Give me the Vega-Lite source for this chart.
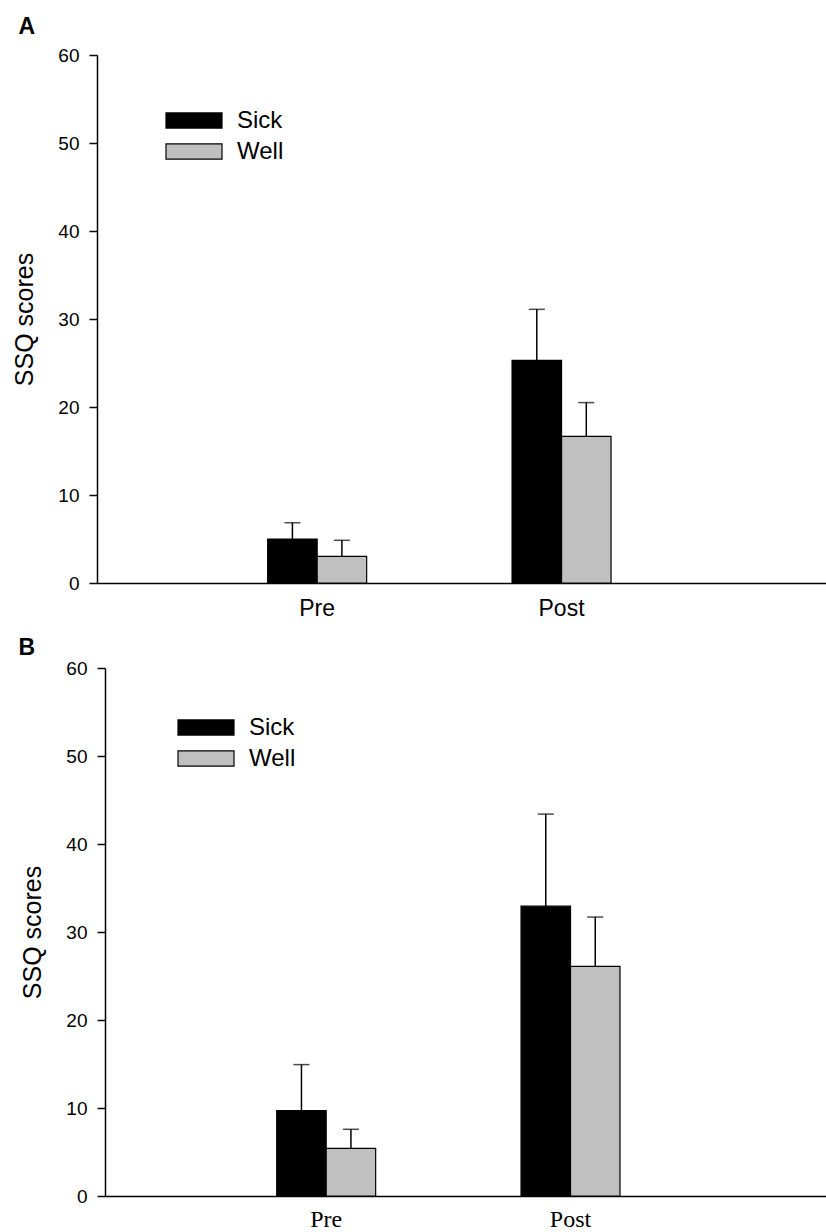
{
  "$schema": "https://vega.github.io/schema/vega-lite/v6.json",
  "background": "white",
  "padding": {"left": 12, "top": 16, "right": 0, "bottom": 0},
  "datasets": {
    "a": [
      {"phase": "Pre", "group": "Sick", "value": 5.0, "upper": 6.85},
      {"phase": "Pre", "group": "Well", "value": 3.03, "upper": 4.85},
      {"phase": "Post", "group": "Sick", "value": 25.3, "upper": 31.1},
      {"phase": "Post", "group": "Well", "value": 16.67, "upper": 20.5}
    ],
    "b": [
      {"phase": "Pre", "group": "Sick", "value": 9.7, "upper": 14.93},
      {"phase": "Pre", "group": "Well", "value": 5.42, "upper": 7.58},
      {"phase": "Post", "group": "Sick", "value": 32.94, "upper": 43.4},
      {"phase": "Post", "group": "Well", "value": 26.1, "upper": 31.7}
    ],
    "empty": []
  },
  "vconcat": [
    {
      "width": 729.5,
      "height": 528,
      "title": {"text": "A", "anchor": "start", "frame": "group", "dx": -78.5, "fontSize": 23, "font": "Liberation Sans", "fontWeight": "bold", "color": "black", "offset": 7},
      "data": {"name": "a"},
      "encoding": {
        "x": {"field": "phase", "type": "nominal", "sort": ["Pre", "Post"], "title": null,
          "scale": {"paddingInner": 0.595, "paddingOuter": 0.79, "align": 0.442},
          "axis": {"labelAngle": 0, "ticks": false, "tickSize": 0, "domainColor": "black", "domainWidth": 1.5, "labelFont": "Liberation Sans", "labelFontSize": 23, "labelColor": "black", "labelPadding": 14}},
        "xOffset": {"field": "group", "type": "nominal", "sort": ["Sick", "Well"], "scale": {"paddingInner": 0, "paddingOuter": 0}}
      },
      "layer": [
        {
          "mark": {"type": "rule", "color": "black", "strokeWidth": 1.5},
          "encoding": {
            "y": {"field": "value", "type": "quantitative", "title": "SSQ scores", "scale": {"domain": [0, 60]},
              "axis": {"values": [0, 10, 20, 30, 40, 50, 60], "grid": false, "tickSize": 8, "tickColor": "black", "tickWidth": 1.5, "domainColor": "black", "domainWidth": 1.5, "labelFont": "Liberation Sans", "labelFontSize": 19, "labelColor": "black", "labelPadding": 10, "titleFont": "Liberation Sans", "titleFontSize": 25, "titleFontWeight": "normal", "titleColor": "black", "titlePadding": 20.5}},
            "y2": {"field": "upper"}
          }
        },
        {
          "mark": {"type": "tick", "orient": "horizontal", "color": "black", "thickness": 1.5, "size": 16},
          "encoding": {"y": {"field": "upper", "type": "quantitative", "title": "SSQ scores"}}
        },
        {
          "mark": {"type": "bar", "stroke": "black", "strokeWidth": 1.2},
          "encoding": {
            "y": {"field": "value", "type": "quantitative", "title": "SSQ scores"},
            "fill": {"field": "group", "type": "nominal", "sort": ["Sick", "Well"],
              "scale": {"domain": ["Sick", "Well"], "range": ["black", "#c0c0c0"]},
              "legend": {"title": null, "orient": "none", "legendX": 68, "legendY": 50, "padding": 0,
                "symbolType": "M-1,-0.27H1V0.27H-1Z", "symbolSize": 3136, "symbolStrokeColor": "black", "symbolStrokeWidth": 1.2, "symbolOpacity": 1,
                "labelFont": "Liberation Sans", "labelFontSize": 24, "labelColor": "black", "labelOffset": 14, "rowPadding": 0, "clipHeight": 31}}
          }
        }
      ]
    },
    {
      "hconcat": [
        {
          "width": 1,
          "height": 1,
          "data": {"name": "empty"},
          "mark": "point",
          "encoding": {}
        },
        {
          "width": 721.5,
          "height": 528,
          "title": {"text": "B", "anchor": "start", "frame": "group", "dx": -86.5, "fontSize": 23, "font": "Liberation Sans", "fontWeight": "bold", "color": "black", "offset": -1},
          "data": {"name": "b"},
          "encoding": {
            "x": {"field": "phase", "type": "nominal", "sort": ["Pre", "Post"], "title": null,
              "scale": {"paddingInner": 0.595, "paddingOuter": 0.774, "align": 0.454},
              "axis": {"labelAngle": 0, "ticks": false, "tickSize": 0, "domainColor": "black", "domainWidth": 1.5, "labelFont": "Liberation Serif", "labelFontSize": 24, "labelColor": "black", "labelPadding": 11}},
            "xOffset": {"field": "group", "type": "nominal", "sort": ["Sick", "Well"], "scale": {"paddingInner": 0, "paddingOuter": 0}}
          },
          "layer": [
            {
              "mark": {"type": "rule", "color": "black", "strokeWidth": 1.5},
              "encoding": {
                "y": {"field": "value", "type": "quantitative", "title": "SSQ scores", "scale": {"domain": [0, 60]},
                  "axis": {"values": [0, 10, 20, 30, 40, 50, 60], "grid": false, "tickSize": 8, "tickColor": "black", "tickWidth": 1.5, "domainColor": "black", "domainWidth": 1.5, "labelFont": "Liberation Sans", "labelFontSize": 19, "labelColor": "black", "labelPadding": 10, "titleFont": "Liberation Sans", "titleFontSize": 25, "titleFontWeight": "normal", "titleColor": "black", "titlePadding": 20.5}},
                "y2": {"field": "upper"}
              }
            },
            {
              "mark": {"type": "tick", "orient": "horizontal", "color": "black", "thickness": 1.5, "size": 16},
              "encoding": {"y": {"field": "upper", "type": "quantitative", "title": "SSQ scores"}}
            },
            {
              "mark": {"type": "bar", "stroke": "black", "strokeWidth": 1.2},
              "encoding": {
                "y": {"field": "value", "type": "quantitative", "title": "SSQ scores"},
                "fill": {"field": "group", "type": "nominal", "sort": ["Sick", "Well"],
                  "scale": {"domain": ["Sick", "Well"], "range": ["black", "#c0c0c0"]},
                  "legend": {"title": null, "orient": "none", "legendX": 72, "legendY": 44, "padding": 0,
                    "symbolType": "M-1,-0.27H1V0.27H-1Z", "symbolSize": 3136, "symbolStrokeColor": "black", "symbolStrokeWidth": 1.2, "symbolOpacity": 1,
                    "labelFont": "Liberation Sans", "labelFontSize": 24, "labelColor": "black", "labelOffset": 14, "rowPadding": 0, "clipHeight": 31}}
              }
            }
          ]
        }
      ],
      "spacing": 7,
      "bounds": "flush",
      "resolve": {"scale": {"fill": "independent", "x": "independent", "xOffset": "independent", "y": "independent"}, "legend": {"fill": "independent"}}
    }
  ],
  "spacing": 17,
  "bounds": "full",
  "resolve": {"scale": {"fill": "independent", "x": "independent", "xOffset": "independent", "y": "independent"}, "legend": {"fill": "independent"}},
  "config": {"view": {"stroke": null}}
}
